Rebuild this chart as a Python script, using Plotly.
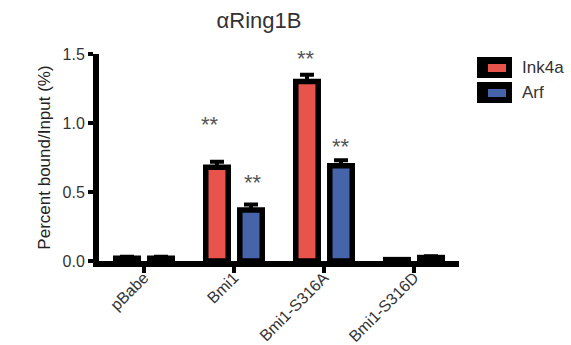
import plotly.graph_objects as go

categories = ["pBabe", "Bmi1", "Bmi1-S316A", "Bmi1-S316D"]
series_names = ["Ink4a", "Arf"]
ink4a_values = [0.02, 0.68, 1.30, 0.01]
ink4a_errors = [0.01, 0.04, 0.05, 0.005]
arf_values = [0.02, 0.37, 0.69, 0.025]
arf_errors = [0.01, 0.04, 0.04, 0.01]
# significance marks: (category index, series, label, y value)
sig_marks = [(1, "Ink4a", "**", 1.02), (1, "Arf", "**", 0.60),
             (2, "Ink4a", "**", 1.50), (2, "Arf", "**", 0.86)]
yticks = [0.0, 0.5, 1.0, 1.5]
ytick_labels = ["0.0", "0.5", "1.0", "1.5"]

colors = {"Ink4a": "#E8534B", "Arf": "#4664A9"}
FONT = "Arial, Liberation Sans, sans-serif"

fig = go.Figure()
for name, vals, errs in [("Ink4a", ink4a_values, ink4a_errors), ("Arf", arf_values, arf_errors)]:
    fig.add_trace(go.Bar(
        x=categories, y=vals, name=name,
        marker=dict(color=colors[name], line=dict(color="black", width=5.5)),
        error_y=dict(type="data", symmetric=False, array=errs, arrayminus=[0]*len(errs),
                     color="black", thickness=4, width=7),
        showlegend=False, hoverinfo="skip",
    ))

offs = {(1, "Ink4a"): -0.27, (1, "Arf"): 0.21, (2, "Ink4a"): -0.2, (2, "Arf"): 0.19}
for ci, s, lab, yv in sig_marks:
    fig.add_annotation(x=ci + offs[(ci, s)], y=yv - 0.03, xref="x", yref="y", text=lab, showarrow=False,
                       font=dict(family=FONT, size=22, color="#555555"), yanchor="middle")

# legend drawn manually
W, H = 360.0, 207.0
def px(xp): return (xp - 99) / W
def py(yp): return (261 - yp) / H
rows = [(57, 78), (82, 103)]
for name, (t, b) in zip(series_names, rows):
    fig.add_shape(type="rect", xref="paper", yref="paper", x0=px(477), x1=px(512), y0=py(b), y1=py(t),
                  fillcolor="black", line=dict(width=0))
    fig.add_shape(type="rect", xref="paper", yref="paper", x0=px(488), x1=px(506), y0=py(b - 6), y1=py(t + 7),
                  fillcolor=colors[name], line=dict(width=0))
    fig.add_annotation(x=px(520), y=py((t + b) / 2), xref="paper", yref="paper", text=name, showarrow=False,
                       xanchor="left", yanchor="middle", font=dict(family=FONT, size=17, color="#333333"))

fig.update_layout(
    width=571, height=345,
    margin=dict(l=99, r=112, t=54, b=84, autoexpand=False),
    paper_bgcolor="white", plot_bgcolor="white",
    barmode="group", bargap=0.244, bargroupgap=0.34,
    title=dict(text="αRing1B", x=259 / 571, xanchor="center", xref="container",
               y=1 - 20 / 345, yanchor="middle", yref="container",
               font=dict(family=FONT, size=22, color="#333333")),
    font=dict(family=FONT, color="#333333"),
    xaxis=dict(range=[-0.5, 3.5], showline=True, linecolor="black", linewidth=6, automargin=False,
               ticks="outside", ticklen=6, tickwidth=4, tickcolor="black", tickangle=-45,
               ticklabelstandoff=-11,
               tickfont=dict(family=FONT, size=16, color="#333333"), showgrid=False, zeroline=False),
    yaxis=dict(range=[0, 1.5], showline=True, linecolor="black", linewidth=6, automargin=False,
               tickvals=yticks, ticktext=ytick_labels,
               ticks="outside", ticklen=5, tickwidth=4, tickcolor="black",
               tickfont=dict(family=FONT, size=16, color="#333333"), showgrid=False, zeroline=False,
               title=dict(text="Percent bound/Input (%)", font=dict(family=FONT, size=17, color="#222222"),
                          standoff=10)),
)

fig.write_html("out.html", config={"displayModeBar": False},
               post_script="document.body.style.margin='0';")
